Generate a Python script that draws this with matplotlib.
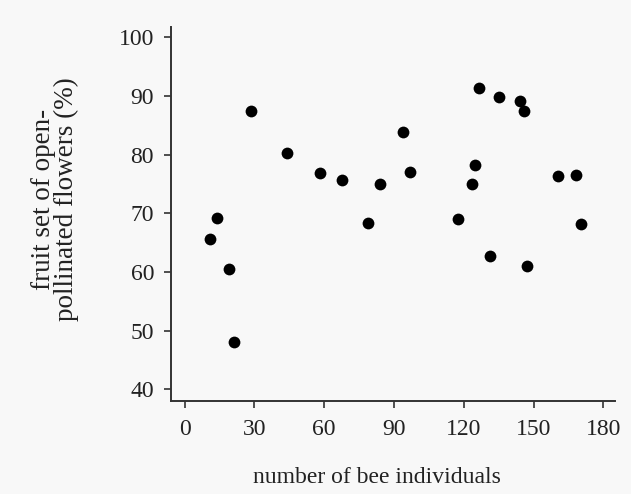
import matplotlib
matplotlib.use("Agg")
import matplotlib.pyplot as plt

# number of bee individuals
bees = [28.7, 44.0, 58.4, 67.8, 84.2, 78.9, 14.0, 11.1, 19.0, 21.1,
        93.7, 97.0, 126.5, 135.3, 144.1, 145.9, 124.7, 123.6, 117.5,
        131.3, 147.3, 160.5, 168.4, 170.3]
# fruit set of open-pollinated flowers (%)
fruit_set = [87.4, 80.2, 76.8, 75.6, 75.0, 68.4, 69.2, 65.6, 60.6, 48.1,
             83.9, 77.0, 91.4, 89.8, 89.1, 87.4, 78.2, 75.0, 69.1,
             62.8, 61.1, 76.4, 76.5, 68.2]

x_ticks = [0, 30, 60, 90, 120, 150, 180]
y_ticks = [40, 50, 60, 70, 80, 90, 100]

plt.rcParams['font.family'] = ['Liberation Serif', 'DejaVu Serif']

fig = plt.figure(figsize=(6.31, 4.94), dpi=100, facecolor='#f8f8f8')
ax = fig.add_axes([0.2705, 0.189, 0.704, 0.757])
ax.set_facecolor('#f8f8f8')

ax.scatter(bees, fruit_set, s=72, color='black', zorder=3, linewidths=0)

ax.set_xlim(-6, 185)
ax.set_ylim(38.1, 101.8)
ax.set_xticks(x_ticks)
ax.set_yticks(y_ticks)

for side in ['top', 'right']:
    ax.spines[side].set_visible(False)
for side in ['left', 'bottom']:
    ax.spines[side].set_color('#333333')
    ax.spines[side].set_linewidth(1.4)

ax.tick_params(axis='both', direction='out', length=5, width=1.2,
               color='#333333', labelsize=17, labelcolor='#222222')
ax.tick_params(axis='x', pad=8)
ax.tick_params(axis='y', pad=7)

fig.text(0.5967, 0.0223, 'number of bee individuals', fontsize=17,
         color='#222222', ha='center', va='baseline')
fig.text(0.087, 0.597, 'fruit set of open-\npollinated flowers (%)', fontsize=19.5,
         color='#222222', ha='center', va='center', rotation=90,
         multialignment='center', linespacing=0.9)

fig.savefig('out.png', dpi=100, facecolor=fig.get_facecolor())
